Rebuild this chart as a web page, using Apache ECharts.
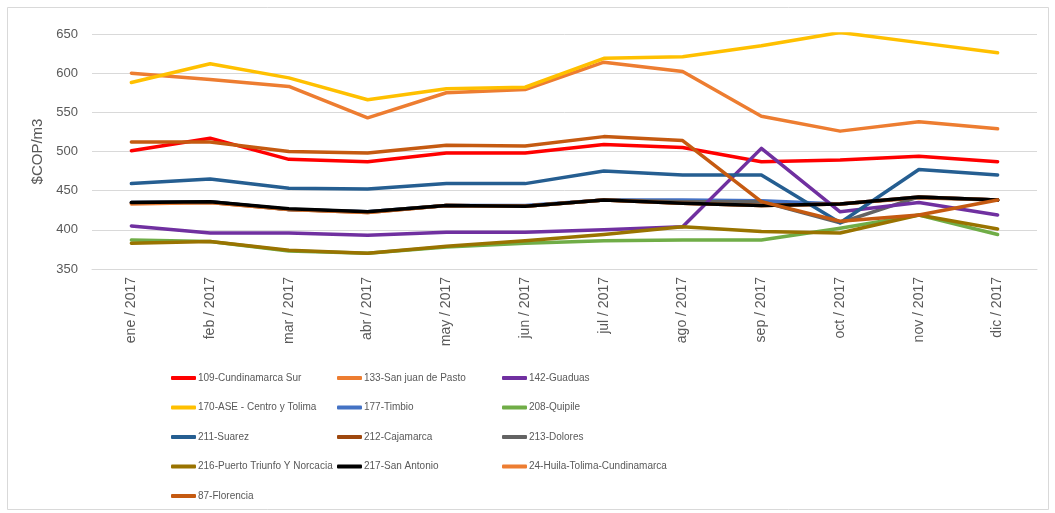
<!DOCTYPE html>
<html>
<head>
<meta charset="utf-8">
<script src="https://cdn.jsdelivr.net/npm/echarts@6/dist/echarts.min.js"></script>
<style>
  html, body { margin: 0; padding: 0; background: #fff; }
  #chart { width: 1055px; height: 513px; }
</style>
</head>
<body>
<div id="chart"></div>
<script>
// categorias (meses)
const months = ['ene / 2017', 'feb / 2017', 'mar / 2017', 'abr / 2017', 'may / 2017', 'jun / 2017',
  'jul / 2017', 'ago / 2017', 'sep / 2017', 'oct / 2017', 'nov / 2017', 'dic / 2017'];

// valores por mercado ($COP/m3)
const s109 = [501, 517, 490, 487, 498, 498, 509, 505, 487, 489, 494, 487];
const s133 = [600, 592, 583, 543, 575, 579, 614, 602, 545, 526, 538, 529];
const s142 = [405, 396, 396, 393, 397, 397, 400, 404, 504, 423, 435, 419];
const s170 = [588, 612, 594, 566, 580, 582, 619, 621, 635, 652, 639, 626];
const s177 = [435, 436, 426, 423, 431, 431, 438, 438, 437, 433, 442, 438];
const s208 = [387, 385, 373, 370, 378, 383, 386, 387, 387, 402, 419, 394];
const s211 = [459, 465, 453, 452, 459, 459, 475, 470, 470, 409, 477, 470];
const s212 = [434, 435, 426, 422, 431, 430, 438, 434, 431, 433, 441, 438];
const s213 = [435, 436, 426, 423, 431, 430, 438, 436, 436, 409, 442, 438];
const s216 = [383, 385, 374, 370, 379, 386, 394, 404, 398, 396, 419, 401];
const s217 = [435, 436, 427, 423, 431, 430, 438, 434, 431, 433, 442, 438];
const s24 = [433, 435, 426, 422, 431, 430, 438, 434, 431, 433, 442, 438];
const s87 = [512, 512, 500, 498, 508, 507, 519, 514, 436, 411, 419, 438];

const names = ['109-Cundinamarca Sur', '133-San juan de Pasto', '142-Guaduas',
  '170-ASE - Centro y Tolima', '177-Timbio', '208-Quipile',
  '211-Suarez', '212-Cajamarca', '213-Dolores',
  '216-Puerto Triunfo Y Norcacia', '217-San Antonio', '24-Huila-Tolima-Cundinamarca',
  '87-Florencia'];
const values = [s109, s133, s142, s170, s177, s208, s211, s212, s213, s216, s217, s24, s87];
const colors = ['#ff0000', '#ed7d31', '#7030a0', '#ffc000', '#4472c4', '#70ad47',
  '#255e91', '#9e480e', '#636363', '#997300', '#000000', '#ed7d31', '#c55a11'];
// series that sit underneath the black line
const hidden = ['177-Timbio', '212-Cajamarca', '213-Dolores', '24-Huila-Tolima-Cundinamarca'];

const series = names.map((n, i) => ({
  name: n,
  type: 'line',
  data: values[i],
  symbol: 'none',
  z: hidden.includes(n) ? 1 : 2,
  lineStyle: { color: colors[i], width: 3.5, cap: 'round', join: 'round' },
  itemStyle: { color: colors[i] },
}));

const legendText = { color: '#595959', fontSize: 10, fontFamily: 'Liberation Sans, sans-serif', lineHeight: 14, padding: [0, 0, 0, -3] };
function col(left, data) {
  return {
    orient: 'vertical',
    left: left,
    top: 371,
    padding: 0,
    icon: 'roundRect',
    itemWidth: 25,
    itemHeight: 4,
    itemGap: 15.5,
    data: data,
    textStyle: legendText,
  };
}

let option = {
  backgroundColor: '#fff',
  animation: false,
  grid: { left: 92, right: 18, top: 34, bottom: 244 },
  legend: [
    col(171, [names[0], names[3], names[6], names[9], names[12]]),
    col(337, [names[1], names[4], names[7], names[10]]),
    col(502, [names[2], names[5], names[8], names[11]]),
  ],
  xAxis: {
    type: 'category',
    data: months,
    boundaryGap: true,
    axisLine: { lineStyle: { color: '#d9d9d9', width: 1 } },
    axisTick: { show: false },
    axisLabel: { rotate: 90, margin: 8, color: '#595959', fontSize: 14, fontFamily: 'Liberation Sans, sans-serif' },
  },
  yAxis: {
    type: 'value',
    min: 350,
    max: 650,
    interval: 50,
    name: '$COP/m3',
    nameLocation: 'middle',
    nameRotate: 90,
    nameGap: 46,
    nameTextStyle: { color: '#595959', fontSize: 15, fontFamily: 'Liberation Sans, sans-serif' },
    axisLine: { show: false },
    axisTick: { show: false },
    axisLabel: { margin: 14, color: '#595959', fontSize: 13, fontFamily: 'Liberation Sans, sans-serif' },
    splitLine: { lineStyle: { color: '#d9d9d9', width: 1 } },
  },
  graphic: [{
    type: 'rect',
    shape: { x: 7.5, y: 7.5, width: 1041, height: 502 },
    style: { fill: 'none', stroke: '#d9d9d9', lineWidth: 1 },
    silent: true,
  }],
  series: series,
};

let myChart = echarts.init(document.getElementById('chart'));
myChart.setOption(option);
</script>
</body>
</html>
